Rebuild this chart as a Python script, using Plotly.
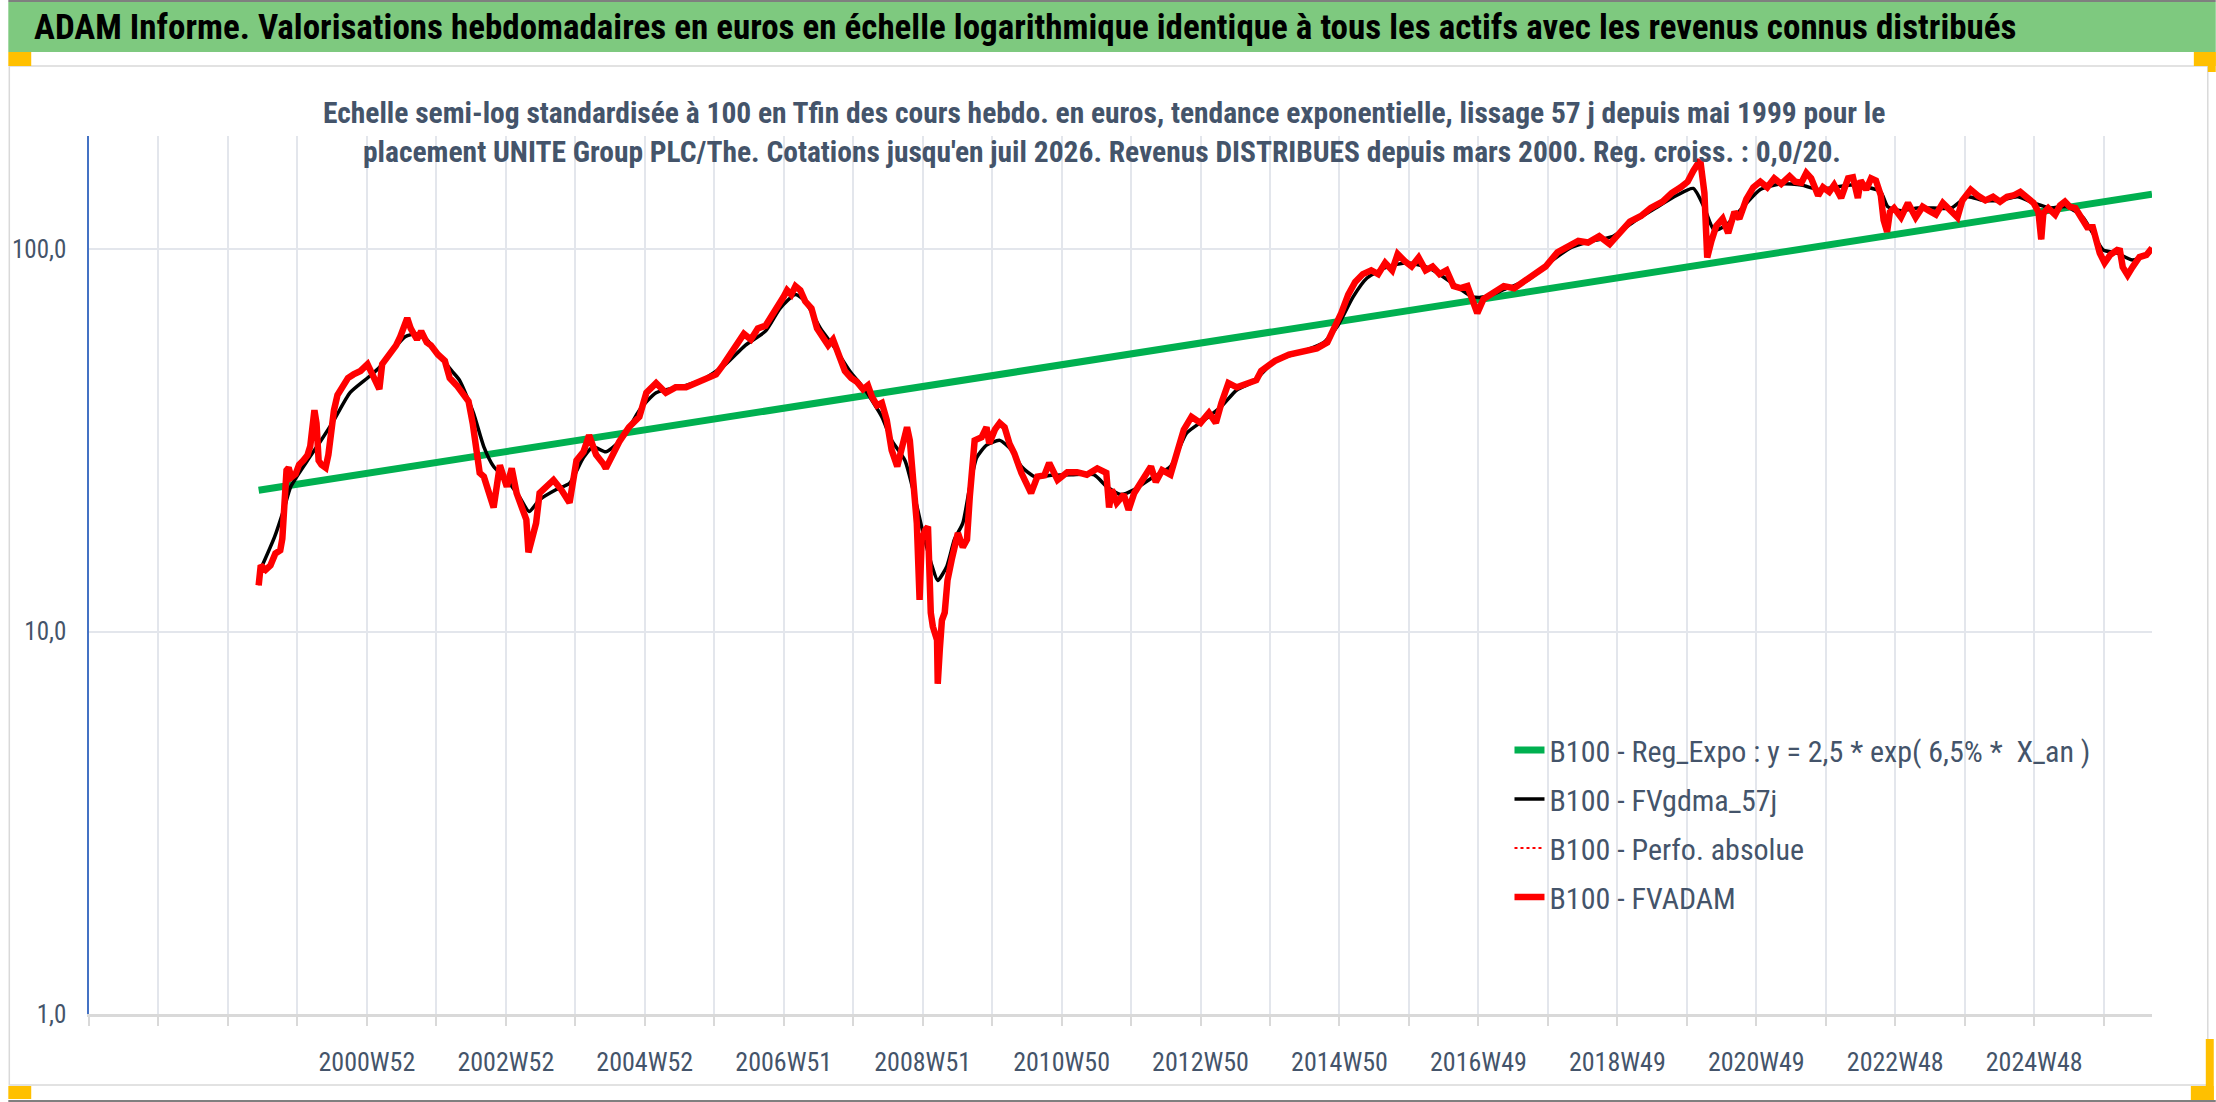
import datetime as dt
import plotly.graph_objects as go

# ---------------- data ----------------
title_text = ("ADAM Informe. Valorisations hebdomadaires en euros en échelle logarithmique "
              "identique à tous les actifs avec les revenus connus distribués")
subtitle_l1 = ("Echelle semi-log standardisée à 100 en Tfin des cours hebdo. en euros, tendance "
               "exponentielle, lissage 57 j depuis mai 1999 pour le")
subtitle_l2 = ("placement UNITE Group PLC/The. Cotations jusqu'en juil 2026. Revenus DISTRIBUES "
               "depuis mars 2000. Reg. croiss. : 0,0/20.")

series_names = ["B100 - Reg_Expo : y = 2,5 * exp( 6,5% *  X_an )",
                "B100 - FVgdma_57j",
                "B100 - Perfo. absolue",
                "B100 - FVADAM"]

# x-axis labelled weeks (every 2nd yearly gridline)
tick_labels = ["2000W52", "2002W52", "2004W52", "2006W51", "2008W51", "2010W50", "2012W50",
               "2014W50", "2016W49", "2018W49", "2020W49", "2022W48", "2024W48"]
y_tick_vals = [1, 10, 100]
y_tick_text = ["1,0", "10,0", "100,0"]

# FVADAM (red) : decimal year, value
red_t = [1999.43, 1999.46, 1999.53, 1999.60, 1999.67, 1999.74, 1999.77, 1999.80, 1999.83, 1999.86,
         1999.90, 1999.96, 2000.01, 2000.07, 2000.13, 2000.17, 2000.20, 2000.23, 2000.26, 2000.29,
         2000.33, 2000.39, 2000.43, 2000.47, 2000.51, 2000.56, 2000.60, 2000.66, 2000.71, 2000.79,
         2000.89, 2000.99, 2001.06, 2001.16, 2001.20, 2001.30, 2001.40, 2001.46, 2001.51, 2001.56,
         2001.61, 2001.70, 2001.76, 2001.84, 2001.90, 2002.00, 2002.10, 2002.17, 2002.27, 2002.34,
         2002.44, 2002.50, 2002.56, 2002.60, 2002.66, 2002.71, 2002.80, 2002.89, 2002.99, 2003.06,
         2003.13, 2003.21, 2003.27, 2003.30, 2003.36, 2003.41, 2003.46, 2003.56, 2003.66, 2003.77,
         2003.89, 2003.99, 2004.09, 2004.17, 2004.27, 2004.37, 2004.41, 2004.51, 2004.60, 2004.74,
         2004.89, 2004.99, 2005.13, 2005.27, 2005.41, 2005.56, 2005.70, 2005.84, 2005.99, 2006.10,
         2006.20, 2006.30, 2006.39, 2006.49, 2006.59, 2006.70, 2006.80, 2006.89, 2006.96, 2007.01,
         2007.07, 2007.13, 2007.20, 2007.27, 2007.36, 2007.44, 2007.53, 2007.60, 2007.67, 2007.76,
         2007.84, 2007.93, 2008.01, 2008.10, 2008.17, 2008.23, 2008.30, 2008.37, 2008.44, 2008.51,
         2008.59, 2008.66, 2008.73, 2008.77, 2008.81, 2008.87, 2008.91, 2008.94, 2008.99, 2009.03,
         2009.07, 2009.10, 2009.16, 2009.17, 2009.20, 2009.23, 2009.27, 2009.31, 2009.37, 2009.46,
         2009.53, 2009.59, 2009.63, 2009.67, 2009.70, 2009.80, 2009.87, 2009.91, 2009.99, 2010.06,
         2010.13, 2010.20, 2010.27, 2010.37, 2010.44, 2010.51, 2010.60, 2010.70, 2010.77, 2010.89,
         2011.03, 2011.17, 2011.31, 2011.46, 2011.59, 2011.63, 2011.67, 2011.74, 2011.84, 2011.91,
         2011.99, 2012.13, 2012.23, 2012.30, 2012.39, 2012.51, 2012.60, 2012.70, 2012.81, 2012.94,
         2013.06, 2013.16, 2013.24, 2013.34, 2013.46, 2013.66, 2013.74, 2013.81, 2014.01, 2014.21,
         2014.41, 2014.61, 2014.76, 2014.86, 2014.96, 2015.06, 2015.16, 2015.27, 2015.39, 2015.49,
         2015.59, 2015.69, 2015.77, 2015.87, 2015.97, 2016.07, 2016.17, 2016.27, 2016.37, 2016.47,
         2016.57, 2016.67, 2016.77, 2016.86, 2016.91, 2017.00, 2017.14, 2017.29, 2017.44, 2017.60,
         2017.74, 2017.89, 2018.06, 2018.21, 2018.36, 2018.50, 2018.66, 2018.81, 2018.96, 2019.10,
         2019.26, 2019.40, 2019.57, 2019.70, 2019.83, 2019.93, 2020.01, 2020.11, 2020.17, 2020.21,
         2020.27, 2020.34, 2020.43, 2020.51, 2020.60, 2020.67, 2020.77, 2020.87, 2020.97, 2021.07,
         2021.17, 2021.27, 2021.39, 2021.47, 2021.56, 2021.63, 2021.70, 2021.80, 2021.87, 2021.96,
         2022.03, 2022.13, 2022.23, 2022.30, 2022.37, 2022.41, 2022.49, 2022.56, 2022.63, 2022.70,
         2022.74, 2022.79, 2022.83, 2022.89, 2022.99, 2023.09, 2023.20, 2023.30, 2023.39, 2023.49,
         2023.59, 2023.67, 2023.80, 2023.87, 2023.99, 2024.09, 2024.20, 2024.31, 2024.41, 2024.51,
         2024.60, 2024.70, 2024.80, 2024.89, 2024.96, 2025.00, 2025.03, 2025.10, 2025.20, 2025.27,
         2025.34, 2025.41, 2025.49, 2025.59, 2025.66, 2025.74, 2025.80, 2025.84, 2025.91, 2025.99,
         2026.09, 2026.13, 2026.17, 2026.24, 2026.31, 2026.41, 2026.51, 2026.59]
red_v = [13.2, 14.9, 14.5, 14.9, 16.0, 16.3, 17.5, 21.0, 26.4, 26.8,
         25.3, 25.8, 27.3, 28.0, 28.9, 30.5, 35.7, 37.9, 35.0, 28.0,
         27.3, 26.8, 29.0, 33.7, 37.9, 41.5, 42.8, 44.6, 46.0, 47.0,
         48.0, 50.0, 47.0, 43.0, 50.0, 53.0, 56.0, 59.0, 63.0, 66.0,
         62.0, 58.0, 61.0, 57.0, 56.0, 53.0, 51.0, 46.0, 44.0, 42.0,
         40.0, 35.0, 30.0, 26.0, 25.4, 24.0, 21.1, 27.2, 23.9, 26.7,
         23.0, 21.0, 19.6, 16.1, 17.5, 19.2, 23.0, 24.0, 24.9, 23.5,
         21.7, 28.0, 29.5, 32.6, 29.0, 27.5, 26.7, 29.0, 31.3, 34.2,
         36.4, 42.1, 44.6, 42.1, 43.5, 43.5, 44.5, 45.4, 47.0, 50.0,
         53.0, 56.0, 60.0, 58.0, 62.0, 63.0, 67.0, 72.0, 75.0, 78.0,
         76.0, 80.0, 78.0, 73.0, 70.0, 62.0, 58.0, 56.0, 58.0, 52.0,
         48.0, 46.0, 45.0, 43.0, 44.0, 41.0, 39.0, 39.6, 35.7, 29.8,
         27.0, 30.4, 34.2, 31.6, 24.9, 19.2, 12.1, 17.4, 18.4, 18.8,
         11.2, 10.3, 9.5, 7.3, 9.0, 10.7, 11.2, 13.6, 15.4, 18.1,
         16.6, 17.4, 22.5, 28.5, 31.6, 32.2, 34.2, 31.0, 33.7, 35.1,
         34.2, 31.0, 29.2, 26.0, 24.4, 23.0, 25.4, 25.6, 27.6, 24.9,
         26.1, 26.1, 25.7, 26.7, 26.0, 21.1, 23.5, 21.7, 22.8, 20.8,
         23.0, 25.2, 27.0, 24.6, 26.4, 25.7, 29.2, 33.7, 36.4, 35.1,
         37.3, 35.1, 39.6, 44.6, 43.5, 44.6, 45.4, 48.0, 51.0, 53.0,
         54.0, 55.0, 57.0, 62.0, 68.0, 76.0, 82.0, 86.0, 88.0, 86.0,
         92.0, 88.0, 97.0, 93.0, 90.0, 95.0, 88.0, 90.0, 86.0, 88.0,
         80.0, 79.0, 80.0, 72.0, 68.0, 74.0, 77.0, 80.0, 79.0, 83.0,
         86.0, 90.0, 98.0, 102.0, 105.0, 104.0, 108.0, 103.0, 110.0, 118.0,
         122.0, 128.0, 133.0, 140.0, 145.0, 150.0, 160.0, 171.0, 140.0, 95.0,
         105.0, 115.0, 120.0, 110.0, 125.0, 120.0, 135.0, 145.0, 150.0, 145.0,
         153.0, 148.0, 155.0, 150.0, 149.0, 158.0, 153.0, 138.0, 145.0, 141.0,
         147.0, 136.0, 153.0, 154.0, 136.0, 151.0, 143.0, 153.0, 151.0, 138.0,
         119.0, 111.0, 125.0, 128.0, 121.0, 132.0, 121.0, 129.0, 126.0, 123.0,
         132.0, 128.0, 121.0, 134.0, 143.0, 138.0, 134.0, 137.0, 133.0, 137.0,
         138.0, 141.0, 136.0, 132.0, 125.0, 106.0, 124.0, 128.0, 123.0, 130.0,
         133.0, 129.0, 128.0, 119.0, 114.0, 114.0, 101.0, 97.6, 92.0, 96.5,
         99.4, 99.0, 89.7, 85.5, 89.7, 95.3, 96.5, 100.6]

# Perfo. absolue (dotted red) lies under FVADAM in the picture
perfo_t = red_t
perfo_v = red_v

# FVgdma_57j (black smoothed)
black_t = [1999.44, 1999.66, 1999.80, 1999.89, 2000.13, 2000.31, 2000.51, 2000.74, 2000.99, 2001.16,
           2001.34, 2001.53, 2001.70, 2001.84, 2002.01, 2002.20, 2002.31, 2002.51, 2002.66, 2002.80,
           2002.99, 2003.17, 2003.31, 2003.46, 2003.70, 2003.89, 2004.09, 2004.23, 2004.41, 2004.66,
           2004.89, 2005.13, 2005.56, 2005.84, 2006.13, 2006.41, 2006.70, 2006.91, 2007.13, 2007.27,
           2007.49, 2007.70, 2007.91, 2008.13, 2008.37, 2008.51, 2008.70, 2008.84, 2008.96, 2009.09,
           2009.17, 2009.30, 2009.41, 2009.53, 2009.63, 2009.73, 2009.87, 2010.06, 2010.23, 2010.37,
           2010.56, 2010.80, 2011.09, 2011.41, 2011.60, 2011.80, 2011.99, 2012.27, 2012.51, 2012.74,
           2012.99, 2013.23, 2013.46, 2013.70, 2014.01, 2014.41, 2014.71, 2014.91, 2015.13, 2015.33,
           2015.63, 2015.93, 2016.23, 2016.53, 2016.84, 2017.04, 2017.34, 2017.64, 2017.94, 2018.26,
           2018.56, 2018.86, 2019.16, 2019.47, 2019.77, 2020.01, 2020.17, 2020.31, 2020.47, 2020.71,
           2020.97, 2021.27, 2021.56, 2021.80, 2022.03, 2022.27, 2022.51, 2022.70, 2022.80, 2022.99,
           2023.23, 2023.46, 2023.71, 2023.94, 2024.17, 2024.41, 2024.66, 2024.89, 2025.13, 2025.37,
           2025.60, 2025.74, 2025.89, 2026.09, 2026.31, 2026.56]
black_v = [14.3, 17.7, 21.1, 23.9, 28.0, 31.3, 35.7, 42.1, 46.0, 49.0,
           54.0, 59.0, 60.0, 58.0, 53.0, 48.0, 45.4, 37.3, 30.4, 27.0,
           24.9, 22.5, 20.6, 22.1, 23.5, 24.4, 28.5, 30.4, 29.5, 32.2,
           37.9, 42.1, 44.0, 46.0, 50.0, 56.0, 61.0, 70.0, 76.0, 73.0,
           62.0, 55.0, 48.0, 42.8, 36.4, 31.6, 28.0, 22.5, 18.1, 14.8,
           13.6, 14.8, 17.4, 19.2, 23.9, 28.5, 30.7, 31.6, 29.8, 27.0,
           25.4, 25.6, 25.7, 25.7, 23.9, 22.8, 23.5, 25.4, 27.0, 33.0,
           35.7, 38.6, 42.8, 45.0, 51.0, 54.0, 57.0, 63.0, 75.0, 84.0,
           90.0, 92.0, 89.0, 82.0, 75.0, 75.0, 79.0, 83.0, 92.0, 101.0,
           105.0, 108.0, 118.0, 128.0, 138.0, 144.0, 128.0, 112.0, 115.0, 128.0,
           143.0, 148.0, 147.0, 143.0, 145.0, 147.0, 145.0, 141.0, 129.0, 126.0,
           128.0, 128.0, 128.0, 137.0, 134.0, 134.0, 137.0, 132.0, 128.0, 129.0,
           121.0, 110.0, 99.4, 97.6, 93.6, 97.6]

# Reg_Expo (green trend) endpoints
trend_t = [1999.43, 2026.59]
trend_v = [23.4, 139.0]

# ---------------- helpers ----------------
def to_date(t):
    y = int(t)
    a = dt.datetime(y, 1, 1)
    b = dt.datetime(y + 1, 1, 1)
    return a + (b - a) * (t - y)

W, H = 2216, 1102
L, R, T, B = 81, 64, 136, 88
PW, PH = W - L - R, H - T - B

def pxx(x):
    return (x - L) / PW

def pxy(y):
    return (H - B - y) / PH

# yearly (52-week) gridlines, labels on every second one
first_lab = dt.date.fromisocalendar(int(tick_labels[0][:4]), int(tick_labels[0][5:]), 1)
grid_dates, grid_text = [], []
for k in range(-4, 26):
    grid_dates.append(first_lab + dt.timedelta(days=364 * k))
    grid_text.append(tick_labels[k // 2] if (k >= 0 and k % 2 == 0 and k // 2 < len(tick_labels)) else "")

FONT = "Liberation Sans Narrow, Roboto Condensed, Arial Narrow, Liberation Sans, sans-serif"
TXT = "#44546A"

fig = go.Figure()
fig.add_trace(go.Scatter(x=[to_date(t) for t in trend_t], y=trend_v, mode="lines",
                         name=series_names[0], legendgroup="g0",
                         line=dict(color="#00B050", width=7)))
fig.add_trace(go.Scatter(x=[to_date(t) for t in black_t], y=black_v, mode="lines",
                         name=series_names[1], legendgroup="g1",
                         line=dict(color="#000000", width=3.5, shape="spline", smoothing=0.6)))
fig.add_trace(go.Scatter(x=[to_date(t) for t in perfo_t], y=perfo_v, mode="lines",
                         name=series_names[2], legendgroup="g2",
                         line=dict(color="#FF0000", width=2, dash="dot")))
fig.add_trace(go.Scatter(x=[to_date(t) for t in red_t], y=red_v, mode="lines",
                         name=series_names[3], legendgroup="g3",
                         line=dict(color="#FF0000", width=6.5)))

shapes = []
# page borders
shapes.append(dict(type="line", xref="paper", yref="paper", x0=pxx(0), x1=pxx(W), y0=pxy(1), y1=pxy(1),
                   line=dict(color="#7F7F7F", width=2)))
shapes.append(dict(type="line", xref="paper", yref="paper", x0=pxx(0), x1=pxx(W), y0=pxy(H - 1), y1=pxy(H - 1),
                   line=dict(color="#7F7F7F", width=2)))
# green banner
shapes.append(dict(type="rect", xref="paper", yref="paper", x0=pxx(0), x1=pxx(W), y0=pxy(52), y1=pxy(2),
                   fillcolor="#7EC97F", line=dict(width=0), layer="below"))
# chart area border
shapes.append(dict(type="rect", xref="paper", yref="paper", x0=pxx(1), x1=pxx(2208), y0=pxy(1085), y1=pxy(66),
                   line=dict(color="#D9D9D9", width=1.5), layer="below"))
# orange handles
for (x0, y0, x1, y1) in [(0, 52, 23, 66), (2194, 52, 2216, 66), (2208, 52, 2216, 72),
                         (0, 1086, 23, 1099), (2191, 1086, 2214, 1100), (2206, 1039, 2214, 1100)]:
    shapes.append(dict(type="rect", xref="paper", yref="paper", x0=pxx(x0), x1=pxx(x1),
                       y0=pxy(y1), y1=pxy(y0), fillcolor="#FFC000", line=dict(width=0)))

annotations = [
    dict(text=title_text, xref="paper", yref="paper", x=pxx(24), y=pxy(28), xanchor="left",
         yanchor="middle", showarrow=False, font=dict(family=FONT, size=35, color="#000000", weight="bold")),
    dict(text=subtitle_l1, xref="paper", yref="paper", x=pxx(1100), y=pxy(113), xanchor="center",
         yanchor="middle", showarrow=False, font=dict(family=FONT, size=29.5, color=TXT, weight="bold")),
    dict(text=subtitle_l2, xref="paper", yref="paper", x=pxx(1098), y=pxy(152), xanchor="center",
         yanchor="middle", showarrow=False, font=dict(family=FONT, size=29.5, color=TXT, weight="bold")),
]

fig.update_layout(
    width=W, height=H,
    margin=dict(l=L, r=R, t=T, b=B),
    paper_bgcolor="white", plot_bgcolor="white",
    font=dict(family=FONT, color=TXT),
    shapes=shapes, annotations=annotations,
    showlegend=True,
    legend=dict(x=pxx(1507), y=pxy(724), xanchor="left", yanchor="top",
                font=dict(family=FONT, size=30, color=TXT), bgcolor="rgba(0,0,0,0)",
                traceorder="grouped", tracegroupgap=7, itemwidth=30),
    xaxis=dict(type="date", range=[grid_dates[0], to_date(red_t[-1])],
               tickmode="array", tickvals=grid_dates, ticktext=grid_text,
               showgrid=True, gridcolor="#E3E6EC", gridwidth=1.5,
               showline=True, linecolor="#D9D9D9", linewidth=2.5,
               ticks="outside", ticklen=9, tickcolor="#D9D9D9", tickwidth=1.5,
               tickfont=dict(family=FONT, size=26, color=TXT), ticklabelstandoff=14,
               zeroline=False, fixedrange=True),
    yaxis=dict(type="log", range=[0, 2.2955],
               tickmode="array", tickvals=y_tick_vals, ticktext=y_tick_text,
               showgrid=True, gridcolor="#E3E6EC", gridwidth=1.5,
               showline=True, linecolor="#4472C4", linewidth=1.5,
               ticks="", tickfont=dict(family=FONT, size=25, color=TXT), ticklabelstandoff=16,
               zeroline=False, fixedrange=True),
)

fig.write_html("out.html",
               config={"displayModeBar": False},
               post_script="document.body.style.margin='0';document.body.style.padding='0';"
                           "document.body.style.overflow='hidden';")
